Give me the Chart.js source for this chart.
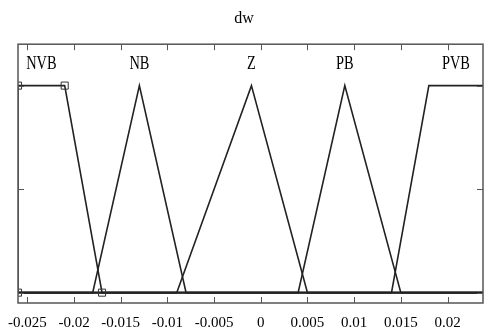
<!DOCTYPE html>
<html>
<head>
<meta charset="utf-8">
<script src="https://cdn.jsdelivr.net/npm/chart.js@4.4.0/dist/chart.umd.min.js"></script>
<style>
  html, body { margin: 0; padding: 0; background: #fff; }
  #wrap { width: 489px; height: 327px; }
</style>
</head>
<body>
<div id="wrap"><canvas id="mf"></canvas></div>
<script>
// membership functions for dw, vertices as (x, degree)
const mfNames = ['NVB', 'NB', 'Z', 'PB', 'PVB'];
const mfX = [
  [-0.026, -0.026, -0.021, -0.017, 0.026],
  [-0.026, -0.018, -0.013, -0.008, 0.026],
  [-0.026, -0.009, -0.001, 0.005, 0.026],
  [-0.026, 0.004, 0.009, 0.015, 0.026],
  [-0.026, 0.014, 0.018, 0.026]
];
const mfY = [
  [0, 1, 1, 0, 0],
  [0, 0, 1, 0, 0],
  [0, 0, 1, 0, 0],
  [0, 0, 1, 0, 0],
  [0, 0, 1, 1]
];
const xTicks = [-0.025, -0.02, -0.015, -0.01, -0.005, 0, 0.005, 0.01, 0.015, 0.02];
const xTickLabels = ['-0.025', '-0.02', '-0.015', '-0.01', '-0.005', '0', '0.005', '0.01', '0.015', '0.02'];
const yTicks = [0, 0.5, 1];
const selected = 0; // NVB is the one with the square handles

const serif = '"Liberation Serif", "Times New Roman", serif';

const datasets = mfNames.map((name, i) => ({
  label: name,
  data: mfX[i].map((x, j) => ({ x: x, y: mfY[i][j] })),
  borderColor: '#222',
  borderWidth: 1.6,
  pointStyle: 'rect',
  pointRadius: i === selected ? 5 : 0,
  pointBorderColor: '#333',
  pointBorderWidth: 1,
  pointBackgroundColor: 'rgba(0,0,0,0)',
  tension: 0
}));

const frame = {
  id: 'frame',
  afterDatasetsDraw(chart) {
    const { ctx, chartArea: a, scales: { x, y } } = chart;
    ctx.save();
    // membership names above each function
    ctx.fillStyle = '#000';
    ctx.font = '18px ' + serif;
    ctx.textAlign = 'center';
    ctx.textBaseline = 'alphabetic';
    mfNames.forEach((name, i) => {
      const top = mfX[i].filter((v, j) => mfY[i][j] === 1)
        .map(v => Math.min(Math.max(v, x.min), x.max));
      const cx = top.reduce((s, v) => s + v, 0) / top.length;
      ctx.save();
      ctx.translate(x.getPixelForValue(cx), y.getPixelForValue(1.08));
      ctx.scale(0.8, 1);
      ctx.fillText(name, 0, 0);
      ctx.restore();
    });
    // box and inward ticks
    ctx.strokeStyle = '#555';
    ctx.lineWidth = 1.5;
    ctx.strokeRect(a.left, a.top, a.right - a.left, a.bottom - a.top);
    ctx.lineWidth = 1;
    ctx.beginPath();
    x.ticks.forEach(t => {
      const px = Math.round(x.getPixelForValue(t.value)) + 0.5;
      ctx.moveTo(px, a.top); ctx.lineTo(px, a.top + 6);
      ctx.moveTo(px, a.bottom); ctx.lineTo(px, a.bottom - 6);
    });
    yTicks.forEach(v => {
      const py = Math.round(y.getPixelForValue(v)) + 0.5;
      ctx.moveTo(a.left, py); ctx.lineTo(a.left + 6, py);
      ctx.moveTo(a.right, py); ctx.lineTo(a.right - 6, py);
    });
    ctx.stroke();
    ctx.restore();
  }
};

new Chart(document.getElementById('mf'), {
  type: 'line',
  data: { datasets: datasets },
  options: {
    responsive: true,
    maintainAspectRatio: false,
    animation: false,
    layout: { padding: { left: 0, right: 1, top: 0, bottom: 0 } },
    plugins: {
      legend: { display: false },
      tooltip: { enabled: false },
      title: {
        display: true,
        text: 'dw',
        color: '#000',
        font: { family: serif, size: 16, weight: 'normal' },
        padding: { top: 9, bottom: 16 }
      }
    },
    scales: {
      x: {
        type: 'linear',
        min: -0.026,
        max: 0.0238,
        grid: { display: false, drawTicks: false },
        border: { display: false },
        afterBuildTicks: s => { s.ticks = xTicks.map(v => ({ value: v })); },
        afterFit: s => { s.height = 24; s.paddingLeft = 0; s.paddingRight = 0; },
        ticks: {
          color: '#000',
          padding: 11,
          maxRotation: 0,
          autoSkip: false,
          font: { family: serif, size: 15 },
          callback: v => {
            const k = xTicks.findIndex(t => Math.abs(t - v) < 1e-9);
            return k >= 0 ? xTickLabels[k] : '';
          }
        }
      },
      y: {
        min: -0.05,
        max: 1.2,
        grid: { display: false, drawTicks: false },
        border: { display: false },
        ticks: { display: false },
        afterFit: s => { s.width = 18; }
      }
    }
  },
  plugins: [frame]
});
</script>
</body>
</html>
